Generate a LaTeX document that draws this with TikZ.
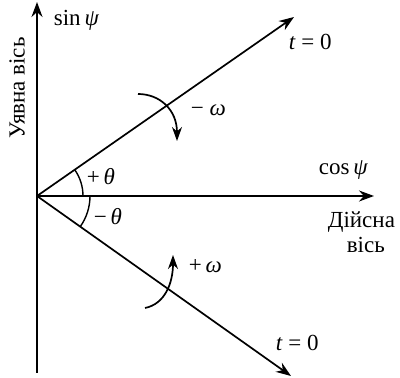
\documentclass[tikz,border=0pt]{standalone}
\usepackage{fontspec}
\setmainfont{Liberation Serif}
\usetikzlibrary{arrows.meta}
\begin{document}
\begin{tikzpicture}[x=1pt,y=1pt,
  line width=1.7pt,
  ax/.style={-{Stealth[length=15pt,width=11pt]}},
  rot/.style={line width=1.7pt,-{Stealth[length=14pt,width=10pt]}},
  lbl/.style={font=\fontsize{23}{26}\selectfont, inner sep=0pt, anchor=west}]
\useasboundingbox (0,0) rectangle (400,378);
\coordinate (O) at (37,182);
\coordinate (Ytop) at (37,376);
\coordinate (Ybot) at (37,5);
\coordinate (Xr) at (374,182);
\coordinate (U) at (294,361);
\coordinate (L) at (291,2);
\draw[ax] (Ybot) -- (Ytop);
\draw[ax] (O) -- (Xr);
\draw[ax] (O) -- (U);
\draw[ax] (O) -- (L);
% angle arcs
\draw[line width=1.4pt] (O) ++(0:46) arc[start angle=0, end angle=35, radius=46];
\draw[line width=1.4pt] (O) ++(0:53) arc[start angle=0, end angle=-35, radius=53];
% rotation arrows
\coordinate (r1s) at (138,284);
\coordinate (r1e) at (177,237);
\draw[rot] (r1s) .. controls (160,284) and (177,268) .. (r1e);
\coordinate (r2s) at (145,70);
\coordinate (r2e) at (173,123);
\draw[rot] (r2s) .. controls (165,74) and (173,95) .. (r2e);
% labels
\node[lbl] (sinpsi) at (53,358) {sin\,\textit{ψ}};
\node[lbl] (t0u) at (288,336) {\textit{t} = 0};
\node[lbl] (mw) at (190,268) {− \textit{ω}};
\node[lbl] (pt) at (86,201) {+\,\textit{θ}};
\node[lbl] (cospsi) at (318,208) {cos\,\textit{ψ}};
\node[lbl] (mt) at (93,161) {−\,\textit{θ}};
\node[lbl] (real) at (327,156) {Дійсна};
\node[lbl] (real2) at (346,133) {вісь};
\node[lbl] (pw) at (188,112) {+\,\textit{ω}};
\node[lbl] (t0l) at (275,35) {\textit{t} = 0};
\node[lbl,rotate=90,anchor=center] (imag) at (17,290) {Уявна вісь};
\end{tikzpicture}
\end{document}
